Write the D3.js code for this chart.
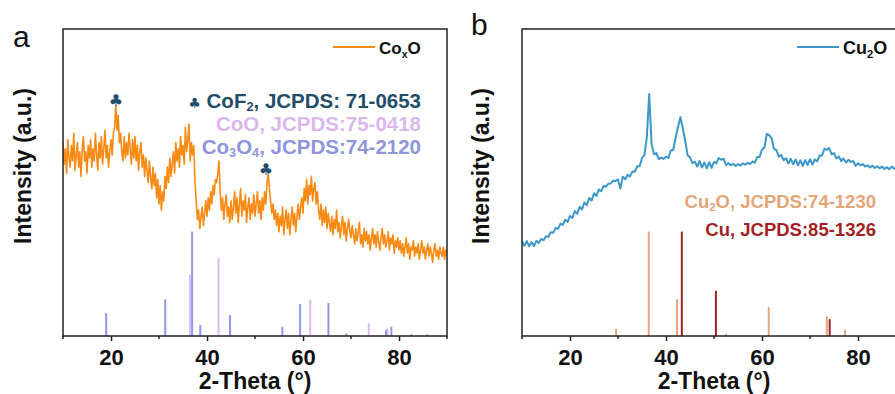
<!DOCTYPE html>
<html>
<head>
<meta charset="utf-8">
<script src="https://cdn.jsdelivr.net/npm/d3@7"></script>
<style>
  body { margin: 0; background: #fff; }
  svg { display: block; font-family: Arial, "Liberation Sans", sans-serif; }
  .tick-label { font-weight: bold; font-size: 22px; fill: #111; }
  .axis-title { font-weight: bold; font-size: 23px; fill: #111; }
</style>
</head>
<body>
<svg id="chart" width="895" height="394"></svg>
<script>
// sampling grids of the two scans (2-theta, degrees)
const thetaStart = 10;
const coxoStep = 0.25;
const cu2oStep = 0.5;

// Co_xO scan, one row = 5 degrees
const coxoIntensity = [
  63, 56, 61, 53, 64, 58, 55, 62, 57, 66, 54, 59, 63, 55, 60, 52, 61, 65, 57, 60,
  53, 62, 58, 64, 55, 61, 57, 66, 59, 54, 63, 58, 65, 56, 61, 67, 58, 62, 55, 60,
  64, 59, 66, 68, 75, 67, 72, 63, 66, 60, 57, 65, 58, 63, 59, 66, 61, 56, 64, 58,
  65, 57, 62, 54, 60, 63, 55, 59, 52, 58, 54, 50, 57, 52, 48, 55, 49, 53, 45, 51,
  43, 49, 41, 47, 44, 52, 48, 55, 50, 58, 52, 56, 60, 53, 63, 57, 61, 55, 65, 59,
  62, 56, 68, 60, 64, 69, 57, 63, 59, 62, 50, 44, 38, 41, 35, 39, 42, 36, 40, 44,
  39, 45, 41, 47, 43, 49, 46, 51, 50, 53, 57, 47, 41, 45, 38, 43, 46, 39, 42, 37,
  44, 38, 42, 47, 40, 45, 37, 43, 48, 39, 44, 41, 46, 37, 42, 45, 38, 43, 40, 46,
  39, 43, 47, 40, 44, 38, 45, 41, 47, 43, 50, 53, 48, 44, 40, 43, 38, 41, 36, 40,
  34, 39, 36, 42, 33, 38, 41, 35, 40, 33, 38, 42, 36, 40, 34, 39, 43, 38, 42, 45,
  40, 48, 44, 51, 43, 49, 46, 52, 44, 48, 50, 43, 47, 41, 38, 43, 36, 41, 37, 42,
  35, 40, 37, 34, 39, 33, 38, 35, 41, 34, 37, 32, 36, 39, 33, 37, 31, 35, 38, 34,
  32, 36, 33, 30, 35, 31, 34, 37, 30, 33, 29, 35, 31, 34, 30, 33, 28, 32, 35, 30,
  33, 29, 34, 31, 28, 32, 35, 30, 33, 29, 31, 34, 28, 32, 30, 33, 27, 31, 29, 32,
  28, 31, 27, 30, 26, 29, 32, 27, 30, 25, 29, 28, 31, 26, 29, 27, 30, 25, 28, 31,
  27, 29, 25, 28, 30, 26, 29, 27, 24, 28, 30, 26, 28, 25, 29, 27, 26, 29, 25, 28,
  27
];

// Cu2O scan, one row = 5 degrees
const cu2oIntensity = [
  30.8, 29.4, 30.9, 29.2, 30.6, 29.3, 31.0, 30.3, 31.6, 31.2,
  32.5, 32.3, 33.8, 33.6, 35.2, 34.9, 36.6, 36.2, 37.9, 37.1,
  39.1, 38.4, 40.7, 39.8, 42.1, 41.2, 43.5, 42.6, 45.0, 44.1,
  46.5, 45.6, 47.7, 47.2, 48.9, 48.6, 49.6, 49.7, 50.6, 50.5,
  51.0, 48.0, 51.9, 51.0, 52.5, 52.0, 53.6, 53.5, 55.3, 55.3,
  57.9, 58.9, 64.5, 78.8, 62.5, 59.2, 59.6, 57.6, 58.1, 57.7,
  58.4, 58.0, 60.4, 60.6, 64.5, 68.0, 71.3, 67.6, 63.6, 58.9,
  58.2, 56.3, 56.8, 55.2, 57.0, 54.9, 56.5, 54.6, 56.6, 54.8,
  56.7, 56.2, 58.0, 57.4, 57.8, 55.7, 56.3, 55.6, 56.1, 55.4,
  56.0, 55.5, 56.2, 55.8, 56.4, 56.0, 56.8, 56.4, 58.3, 58.3,
  60.7, 61.4, 65.8, 65.4, 64.4, 60.9, 60.6, 58.4, 59.0, 57.3,
  57.9, 56.2, 57.7, 55.9, 57.5, 55.6, 57.2, 55.4, 57.3, 55.7,
  57.6, 55.8, 57.5, 56.9, 58.8, 58.7, 61.0, 60.6, 61.2, 59.2,
  59.6, 57.8, 58.5, 57.0, 57.8, 56.5, 57.4, 56.7, 57.0, 55.4,
  56.3, 55.6, 56.0, 55.2, 55.6, 54.9, 55.5, 54.7, 55.3, 54.6,
  55.2, 54.4, 55.0, 54.3, 55.2, 54.5, 55.1, 54.3, 55.0, 54.2,
  54.9
];

// reference cards (peak position, relative height)
const cooPos = [36.5, 42.4, 61.5, 73.7, 77.6];
const cooHeight = [20, 25.4, 11.7, 4.2, 2.5];
const co3o4Pos = [19.0, 31.3, 36.9, 38.6, 44.8, 55.7, 59.4, 65.3, 69.0, 77.3, 78.4, 82.6, 85.8];
const co3o4Height = [7.5, 12, 34, 3.6, 6.8, 3, 10.4, 10.7, 0.8, 2, 3, 0.6, 0.6];
const cof2MarkPos = [21.0, 52.3];
const cof2MarkLevel = [75, 52.5];

const cu2oCardPos = [29.6, 36.4, 42.3, 52.5, 61.4, 73.5, 77.3];
const cu2oCardHeight = [2.3, 34, 12, 0.7, 9.4, 6.5, 2];
const cuCardPos = [43.3, 50.4, 74.1];
const cuCardHeight = [34, 14.7, 5.5];

const xTicks = [20, 40, 60, 80];
const xMinorTicks = [10, 30, 50, 70, 90];

const svg = d3.select('#chart');
svg.append('rect').attr('width', 895).attr('height', 394).attr('fill', '#fff');

const plotTop = 29, plotBottom = 336;

function drawPanel(p) {
    const g = svg.append('g');
    const x = d3.scaleLinear().domain([10, 90]).range([p.left, p.left + 384]);
    const y = d3.scaleLinear().domain([0, 100]).range([plotBottom, plotTop]);

    const clipId = 'clip-' + p.letter;
    svg.append('clipPath').attr('id', clipId)
        .append('rect')
        .attr('x', x(10)).attr('y', plotTop)
        .attr('width', x(90) - x(10)).attr('height', plotBottom - plotTop);

    const plot = g.append('g').attr('clip-path', 'url(#' + clipId + ')');

    // reference sticks
    p.cards.forEach(card => {
        plot.selectAll(null)
            .data(card.pos.map((d, i) => ({ pos: d, h: card.height[i] })))
            .enter().append('line')
            .attr('x1', d => x(d.pos)).attr('x2', d => x(d.pos))
            .attr('y1', y(0)).attr('y2', d => y(d.h))
            .attr('stroke', card.color)
            .attr('stroke-width', 2);
    });

    // measured pattern
    const line = d3.line()
        .x((d, i) => x(thetaStart + i * p.step))
        .y(d => y(d));
    plot.append('path')
        .datum(p.values)
        .attr('d', line)
        .attr('fill', 'none')
        .attr('stroke', p.color)
        .attr('stroke-width', p.lineWidth)
        .attr('stroke-linejoin', 'round');

    // frame
    g.append('rect')
        .attr('x', x(10)).attr('y', plotTop)
        .attr('width', x(90) - x(10)).attr('height', plotBottom - plotTop)
        .attr('fill', 'none').attr('stroke', '#222').attr('stroke-width', 1.5);

    // bottom axis
    const axis = g.append('g').attr('transform', 'translate(0,' + plotBottom + ')')
        .call(d3.axisBottom(x).tickValues(xTicks).tickSize(5).tickFormat(d3.format('d')));
    axis.select('.domain').remove();
    axis.selectAll('.tick line').attr('stroke', '#222').attr('stroke-width', 1.5);
    axis.selectAll('.tick text')
        .attr('class', 'tick-label')
        .attr('dy', null).attr('y', 29);
    g.selectAll(null).data(xMinorTicks).enter().append('line')
        .attr('x1', d => x(d)).attr('x2', d => x(d))
        .attr('y1', plotBottom).attr('y2', plotBottom + 3)
        .attr('stroke', '#222').attr('stroke-width', 1.5);

    // titles
    g.append('text').attr('class', 'axis-title')
        .attr('x', (x(10) + x(90)) / 2).attr('y', 389)
        .attr('text-anchor', 'middle')
        .text('2-Theta (°)');
    g.append('text').attr('class', 'axis-title')
        .attr('transform', 'translate(' + p.yTitleX + ',166) rotate(-90)')
        .attr('text-anchor', 'middle')
        .text('Intensity (a.u.)');
    g.append('text')
        .attr('x', p.letterX).attr('y', p.letterY)
        .attr('font-size', 30).attr('fill', '#111')
        .text(p.letter);

    // legend
    g.append('line')
        .attr('x1', p.legendX).attr('x2', p.legendX + 42)
        .attr('y1', 47).attr('y2', 47)
        .attr('stroke', p.color).attr('stroke-width', 2);
    const lt = g.append('text')
        .attr('x', p.legendX + 46).attr('y', 54)
        .attr('font-size', p.legendSize).attr('font-weight', 'bold').attr('fill', '#111');
    lt.append('tspan').text(p.legend[0]);
    lt.append('tspan').attr('font-size', p.legendSize * 0.62).attr('dy', 4).text(p.legend[1]);
    lt.append('tspan').attr('dy', -4).text(p.legend[2]);

    // card captions
    p.captions.forEach(c => {
        const t = g.append('text')
            .attr('x', p.captionRight).attr('y', c.y)
            .attr('text-anchor', 'end')
            .attr('font-size', p.captionSize).attr('font-weight', 'bold')
            .attr('fill', c.color);
        c.parts.forEach(part => {
            const s = t.append('tspan').text(part.t);
            if (part.sub) s.attr('font-size', p.captionSize * 0.62).attr('dy', 3);
            if (part.after) s.attr('dy', -3);
            if (part.club) s.attr('font-size', 14).attr('font-family', 'DejaVu Sans');
        });
    });

    return { x, y, g };
}

const panelA = drawPanel({
    letter: 'a', letterX: 13, letterY: 47,
    left: 63, yTitleX: 31,
    values: coxoIntensity, step: coxoStep, lineWidth: 1.6, color: '#f98a14',
    legend: ['Co', 'x', 'O'], legendX: 333, legendSize: 17,
    cards: [
        { pos: cooPos, height: cooHeight, color: '#dcb9f0' },
        { pos: co3o4Pos, height: co3o4Height, color: '#9198e6' }
    ],
    captionRight: 421, captionSize: 20.5,
    captions: [
        { y: 108, color: '#1f4d6a', parts: [{ t: '♣', club: true }, { t: ' CoF' }, { t: '2', sub: true }, { t: ', JCPDS: 71-0653', after: true }] },
        { y: 131, color: '#dab8ee', parts: [{ t: 'CoO, JCPDS:75-0418' }] },
        { y: 154, color: '#8e95de', parts: [{ t: 'Co' }, { t: '3', sub: true }, { t: 'O', after: true }, { t: '4', sub: true }, { t: ', JCPDS:74-2120', after: true }] }
    ]
});

// CoF2 markers above the pattern
panelA.g.selectAll(null)
    .data(cof2MarkPos.map((d, i) => ({ pos: d, level: cof2MarkLevel[i] })))
    .enter().append('text')
    .attr('x', d => panelA.x(d.pos))
    .attr('y', d => panelA.y(d.level))
    .attr('text-anchor', 'middle')
    .attr('font-family', 'DejaVu Sans')
    .attr('font-size', 16)
    .attr('fill', '#1f4d6a')
    .text('♣');

drawPanel({
    letter: 'b', letterX: 471, letterY: 35,
    left: 522, yTitleX: 489,
    values: cu2oIntensity, step: cu2oStep, lineWidth: 2, color: '#3d97c9',
    legend: ['Cu', '2', 'O'], legendX: 797, legendSize: 18,
    cards: [
        { pos: cu2oCardPos, height: cu2oCardHeight, color: '#e3a677' },
        { pos: cuCardPos, height: cuCardHeight, color: '#a31f25' }
    ],
    captionRight: 876, captionSize: 18.5,
    captions: [
        { y: 208, color: '#e3a677', parts: [{ t: 'Cu' }, { t: '2', sub: true }, { t: 'O, JCPDS:74-1230', after: true }] },
        { y: 236, color: '#a31f25', parts: [{ t: 'Cu, JCPDS:85-1326' }] }
    ]
});
</script>
</body>
</html>
